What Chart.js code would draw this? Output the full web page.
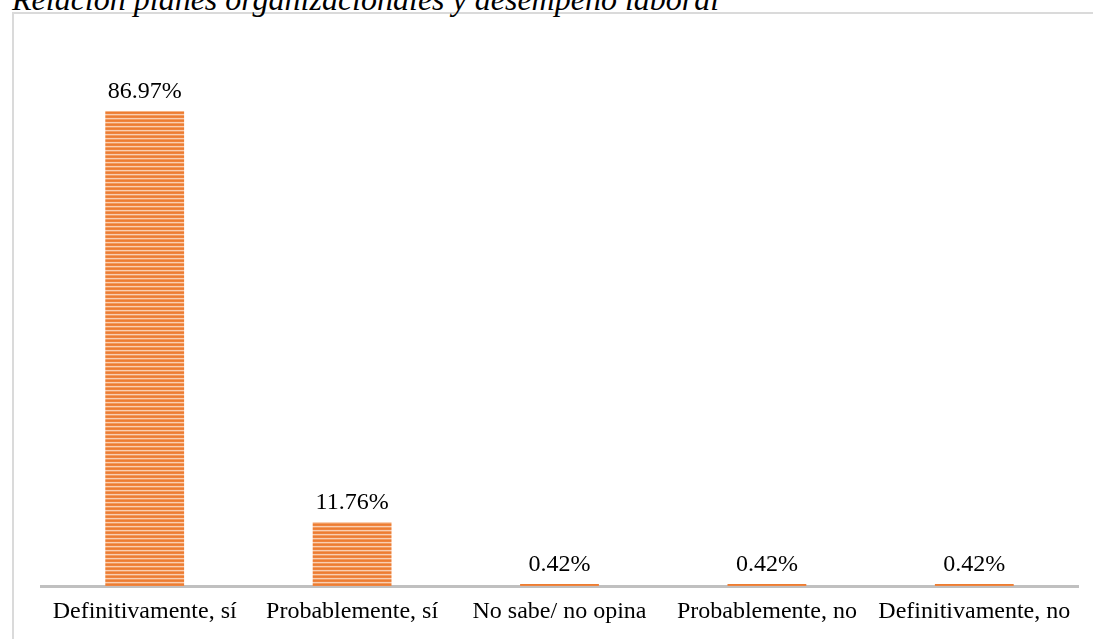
<!DOCTYPE html>
<html>
<head>
<meta charset="utf-8">
<script src="https://cdn.jsdelivr.net/npm/chart.js@4/dist/chart.umd.min.js"></script>
<style>
	body { margin: 0; background: #fff; overflow: hidden; }
	#wrap { position: relative; width: 1093px; height: 639px; }
	#frame {
		position: absolute; left: 12px; top: 12px; width: 1100px; height: 700px;
		border-left: 2px solid #dadada; border-top: 2px solid #dadada;
	}
	#title {
		position: absolute; left: 12px; top: -19px; white-space: nowrap; line-height: 1.107;
		font: italic 32px "Liberation Serif", "Times New Roman", serif; color: #000;
	}
	#myChart { position: absolute; left: 0; top: 0; }
</style>
</head>
<body>
<div id="wrap">
	<div id="frame"></div>
	<div id="title">Relación planes organizacionales y desempeño laboral</div>
	<canvas id="myChart" width="1093" height="639"></canvas>
</div>
<script>
const categories = ["Definitivamente, sí", "Probablemente, sí", "No sabe/ no opina", "Probablemente, no", "Definitivamente, no"];
const percents = [86.97, 11.76, 0.42, 0.42, 0.42];

const serif = '"Liberation Serif", "Times New Roman", serif';

// horizontal striped fill for the bars
function stripes() {
	const c = document.createElement("canvas");
	c.width = 4;
	c.height = 4;
	const g = c.getContext("2d");
	const rows = ["#ED7D31", "#EE8440", "#F9CFB2", "#F29A5E"];
	rows.forEach((col, i) => {
		g.fillStyle = col;
		g.fillRect(0, i, 4, 1);
	});
	return g.createPattern(c, "repeat");
}

// percentage above each bar
const valueLabels = {
	id: "valueLabels",
	afterDatasetsDraw(chart) {
		const ctx = chart.ctx;
		const meta = chart.getDatasetMeta(0);
		ctx.save();
		ctx.font = "24px " + serif;
		ctx.fillStyle = "#000";
		ctx.textAlign = "center";
		ctx.textBaseline = "alphabetic";
		meta.data.forEach((bar, i) => {
			ctx.fillText(percents[i].toFixed(2) + "%", bar.x, bar.y - 13);
		});
		ctx.restore();
	},
};

window.addEventListener("load", setup);

function setup() {
	const ctx = document.getElementById("myChart").getContext("2d");
	new Chart(ctx, {
		type: "bar",
		data: {
			labels: categories,
			datasets: [
				{
					data: percents,
					backgroundColor: stripes(),
					borderWidth: 0,
					barPercentage: 0.38,
					categoryPercentage: 1,
				},
			],
		},
		options: {
			responsive: false,
			animation: false,
			layout: { padding: { left: 41, right: 15, top: 40, bottom: 10 } },
			plugins: { legend: { display: false }, tooltip: { enabled: false } },
			scales: {
				y: { display: false, min: 0, max: 100 },
				x: {
					grid: { display: false },
					border: { color: "#c0c0c0", width: 3 },
					ticks: { color: "#000", font: { family: serif, size: 24 }, padding: 3, maxRotation: 0 },
				},
			},
		},
		plugins: [valueLabels],
	});
}
</script>
</body>
</html>
